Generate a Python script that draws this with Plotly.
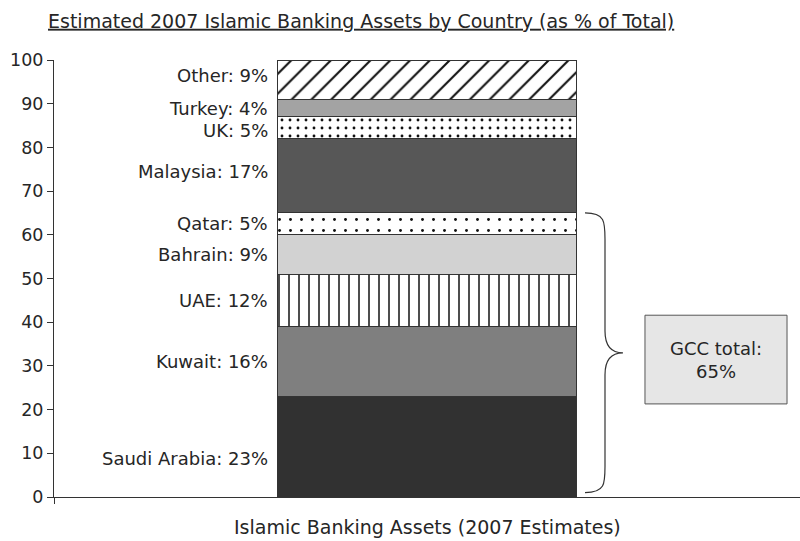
import plotly.graph_objects as go

# Estimated 2007 shares of Islamic banking assets (% of total), stacked bottom-up
countries = ["Saudi Arabia", "Kuwait", "UAE", "Bahrain", "Qatar",
             "Malaysia", "UK", "Turkey", "Other"]
shares = [23, 16, 12, 9, 5, 17, 5, 4, 9]
gcc_members = ["Saudi Arabia", "Kuwait", "UAE", "Bahrain", "Qatar"]
y_ticks = [0, 10, 20, 30, 40, 50, 60, 70, 80, 90, 100]

title_text = "Estimated 2007 Islamic Banking Assets by Country (as % of Total)"
x_title = "Islamic Banking Assets (2007 Estimates)"

FONT = "DejaVu Sans"
INK = "#262626"


def hatch(shape, size, solidity):
    return dict(shape=shape, size=size, solidity=solidity, fgcolor="#111",
                fgopacity=1, bgcolor="white", fillmode="overlay")


# fill style of each segment: a solid grey or a black-on-white pattern
styles = {
    "Saudi Arabia": dict(color="#313131"),
    "Kuwait": dict(color="#7f7f7f"),
    "UAE": dict(color="white", pattern=hatch("|", 10, 0.15)),
    "Bahrain": dict(color="#d2d2d2"),
    "Qatar": dict(color="white", pattern=hatch(".", 11, 0.055)),
    "Malaysia": dict(color="#575757"),
    "UK": dict(color="white", pattern=hatch(".", 8, 0.1)),
    "Turkey": dict(color="#a3a3a3"),
    "Other": dict(color="white", pattern=hatch("/", 14, 0.15)),
}
# small vertical nudges (in % units) for a few labels
label_nudge = {"Saudi Arabia": -2.6, "Other": 0.9, "Malaysia": 0.9, "UK": -0.7}

fig = go.Figure()
bottom = 0
annotations = []
for name, val in zip(countries, shares):
    st = styles[name]
    marker = dict(color=st["color"], line=dict(color="#333", width=1))
    if "pattern" in st:
        marker["pattern"] = st["pattern"]
    fig.add_trace(go.Bar(x=[0], y=[val], width=0.402, name=name, marker=marker,
                         showlegend=False, hoverinfo="name+y"))
    mid = bottom + val / 2 + label_nudge.get(name, 0)
    annotations.append(dict(x=0.2895, xref="paper", y=mid, yref="y",
                            text=f"{name}: {val}%", showarrow=False,
                            xanchor="right", yanchor="middle",
                            font=dict(family=FONT, size=18, color=INK)))
    bottom += val

gcc_total = sum(v for c, v in zip(countries, shares) if c in gcc_members)

# curly brace spanning the GCC segments
x0, x1, xt = 0.7118, 0.7386, 0.7627
top, bot = gcc_total, 1
mid = (top + bot) / 2
brace = (f"M {x0},{top} C {x1},{top} {x1},{top-2} {x1},{top-6} "
         f"L {x1},{mid+5} C {x1},{mid+1.5} {x1+0.008},{mid} {xt},{mid} "
         f"C {x1+0.008},{mid} {x1},{mid-1.5} {x1},{mid-5} "
         f"L {x1},{bot+6} C {x1},{bot+2} {x1},{bot} {x0},{bot}")

shapes = [
    dict(type="path", path=brace, xref="paper", yref="y",
         line=dict(color="#333", width=1.2)),
    dict(type="rect", xref="paper", yref="y", x0=0.7922, x1=0.9826, y0=21.3, y1=41.6,
         fillcolor="#e6e6e6", line=dict(color="#555", width=1)),
]
annotations.append(dict(x=0.8874, xref="paper", y=31.4, yref="y",
                        text=f"GCC total:<br>{gcc_total}%", showarrow=False,
                        xanchor="center", yanchor="middle", align="center",
                        font=dict(family=FONT, size=18, color=INK)))
annotations.append(dict(x=0.5, xref="paper", y=-0.068, yref="paper",
                        text=x_title, showarrow=False, xanchor="center", yanchor="middle",
                        font=dict(family=FONT, size=19, color=INK)))

fig.update_layout(
    width=800, height=541,
    margin=dict(l=54, r=0, t=60, b=44),
    paper_bgcolor="white", plot_bgcolor="white",
    barmode="stack",
    title=dict(text=title_text, x=0.06, xanchor="left", xref="container",
               y=0.961, yanchor="middle", yref="container",
               font=dict(family=FONT, size=19, color=INK, lineposition="under")),
    xaxis=dict(range=[-0.5, 0.5], showgrid=False, zeroline=False,
               showline=True, linecolor="#333", linewidth=1,
               tickvals=[-0.5], ticktext=[""], ticks="outside", ticklen=6,
               tickcolor="#333", fixedrange=True),
    yaxis=dict(range=[0, 100], tickvals=y_ticks, showgrid=False, zeroline=False,
               showline=True, linecolor="#333", linewidth=1,
               ticks="outside", ticklen=6, tickcolor="#333",
               tickfont=dict(family=FONT, size=17.5, color=INK)),
    shapes=shapes,
    annotations=annotations,
    font=dict(family=FONT, color=INK),
)

fig.write_html("out.html")
